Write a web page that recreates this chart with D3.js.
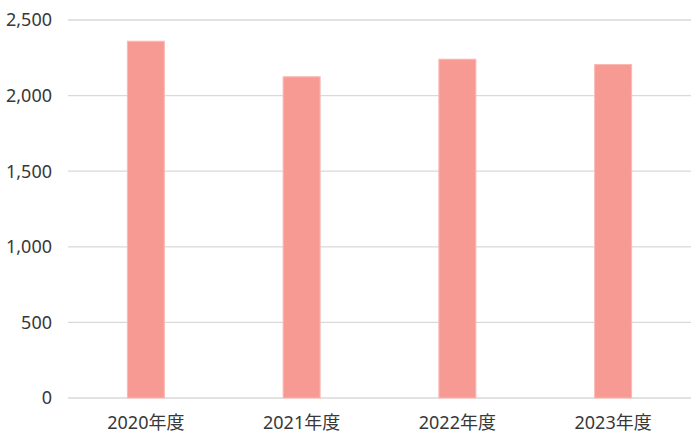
<!DOCTYPE html>
<html><head><meta charset="utf-8">
<script src="https://cdn.jsdelivr.net/npm/d3@7"></script>
<style>body{margin:0;background:#fff}svg{display:block}</style>
</head><body>
<script>
const categories = ["2020年度","2021年度","2022年度","2023年度"];
const values = [2363, 2128, 2244, 2209];
const yTicks = [0, 500, 1000, 1500, 2000, 2500];

const W = 700, H = 443;
const m = {left: 68, right: 9, top: 20, bottom: 45};
const svg = d3.select("body").append("svg").attr("width", W).attr("height", H);
const font = "'Noto Sans','Noto Sans CJK JP',sans-serif";

const x = d3.scaleBand().domain(categories).range([m.left, W - m.right])
  .paddingInner(0.756).paddingOuter(0.378);
const y = d3.scaleLinear().domain([0, 2500]).range([H - m.bottom, m.top]);

const g = svg.append("g");
g.selectAll("line.grid").data(yTicks).join("line").attr("class","grid")
  .attr("x1", m.left).attr("x2", W - m.right)
  .attr("y1", d => y(d)).attr("y2", d => y(d))
  .attr("stroke", "#d9d9d9").attr("stroke-width", 1.3);

const fmt = d3.format(",");
g.selectAll("text.yl").data(yTicks).join("text").attr("class","yl")
  .attr("x", 52).attr("y", d => y(d)).attr("dy", "0.35em")
  .attr("text-anchor", "end").attr("font-family", font).attr("font-size", 18)
  .attr("fill", "#383838").text(d => fmt(d));

g.selectAll("rect.bar").data(values).join("rect").attr("class","bar")
  .attr("x", (d,i) => x(categories[i]) + 0.5).attr("width", x.bandwidth() - 1)
  .attr("y", d => y(d) + 0.5).attr("height", d => y(0) - y(d) - 0.5)
  .attr("fill", "#F79A94").attr("stroke", "#FBB9B4").attr("stroke-width", 1);

g.selectAll("text.xl").data(categories).join("text").attr("class","xl")
  .attr("x", d => x(d) + x.bandwidth()/2).attr("y", 423).attr("dy", "0.35em")
  .attr("text-anchor", "middle").attr("font-family", font).attr("font-size", 18)
  .attr("fill", "#383838").text(d => d);
</script>
</body></html>
